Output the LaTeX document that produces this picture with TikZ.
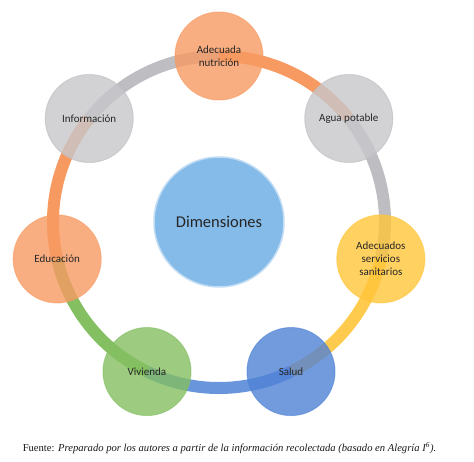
\documentclass[tikz,border=0pt]{standalone}
\usepackage{fontspec}
\setmainfont{Carlito}
\newfontfamily\fuentepie{Liberation Serif}
\usepackage{xcolor}
\usetikzlibrary{positioning,backgrounds}
\definecolor{naranja}{HTML}{F79A62}
\definecolor{gris}{HTML}{BDBDC2}
\definecolor{amarillo}{HTML}{FFC53A}
\definecolor{azul}{HTML}{4F82D6}
\definecolor{verde}{HTML}{84BF62}
\definecolor{celeste}{HTML}{78B3E6}
\definecolor{texto}{HTML}{262626}

\begin{document}
\begin{tikzpicture}[
  x=1pt, y=1pt,
  font=\fontsize{11}{13}\selectfont,
  dimension/.style={circle, minimum size=88pt, inner sep=1pt, align=center,
    text=texto, fill opacity=0.8, text opacity=1, draw opacity=0.6, line width=1pt},
  centro/.style={circle, minimum size=130pt, fill=celeste!90!white,
    draw=celeste!45!white, line width=1.5pt, text=texto,
    font=\fontsize{16.5}{19}\selectfont},
  anillo/.style={line width=12pt, bend left=25.71, looseness=0.9}
]
  \useasboundingbox (-219,222) rectangle (255,-240);
  % centro
  \node[centro] (dim) at (0,0) {Dimensiones};
  % dimensiones en el ciclo
  \node[dimension, fill=naranja, draw=naranja] (nutricion) at (90:166) {Adecuada\\nutrición};
  \node[dimension, fill=gris!85!white, draw=gris] (agua) at (38.57:166) {Agua potable};
  \node[dimension, fill=amarillo, draw=amarillo] (sanitarios) at (-12.86:166)
    {Adecuados\\servicios\\sanitarios};
  \node[dimension, fill=azul, draw=azul] (salud) at (-64.29:166) {Salud};
  \node[dimension, fill=verde, draw=verde] (vivienda) at (-115.71:166) {Vivienda};
  \node[dimension, fill=naranja, draw=naranja] (educacion) at (-167.14:166) {Educación};
  \node[dimension, fill=gris!85!white, draw=gris] (informacion) at (141.43:166) {Información};
  % anillo
  \begin{scope}[on background layer]
    \draw[anillo, naranja] (nutricion.center) to (agua.center);
    \draw[anillo, gris] (agua.center) to (sanitarios.center);
    \draw[anillo, amarillo!90!white] (sanitarios.center) to (salud.center);
    \draw[anillo, azul!85!white] (salud.center) to (vivienda.center);
    \draw[anillo, verde] (vivienda.center) to (educacion.center);
    \draw[anillo, naranja] (educacion.center) to (informacion.center);
    \draw[anillo, gris] (informacion.center) to (nutricion.center);
  \end{scope}
  % pie
  \node[font=\fuentepie\fontsize{10.6}{12}\selectfont, text=black!90] (pie) at (10.5,-226)
    {Fuente: \textit{Preparado por los autores a partir de la información recolectada (basado en Alegría I\textsuperscript{6}).}};
\end{tikzpicture}
\end{document}
